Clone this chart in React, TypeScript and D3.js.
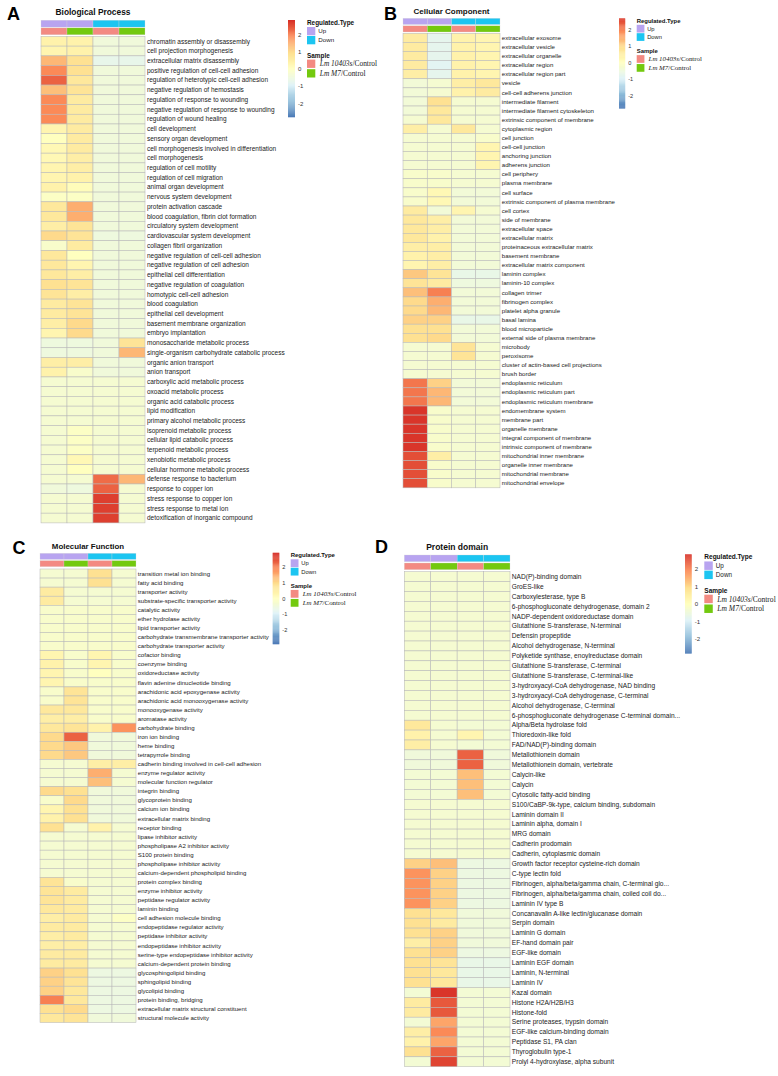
import React from "react";
import * as d3 from "d3";

// ---------- shared categories ----------
const regulatedType = ["Up", "Up", "Down", "Down"];
const sampleType = ["10403s", "M7", "10403s", "M7"];
const legendTicks = [2, 1, 0, -1, -2];
const paletteColors = ["#4575B4", "#91BFDB", "#E0F3F8", "#FFFFBF", "#FEE090", "#FC8D59", "#D73027"];
const paletteMin = -2.8;
const paletteMax = 2.8;

// ---------- A: Biological Process ----------
const bpTerms = [
  "chromatin assembly or disassembly", "cell projection morphogenesis", "extracellular matrix disassembly",
  "positive regulation of cell-cell adhesion", "regulation of heterotypic cell-cell adhesion",
  "negative regulation of hemostasis", "regulation of response to wounding",
  "negative regulation of response to wounding", "regulation of wound healing", "cell development",
  "sensory organ development", "cell morphogenesis involved in differentiation", "cell morphogenesis",
  "regulation of cell motility", "regulation of cell migration", "animal organ development",
  "nervous system development", "protein activation cascade", "blood coagulation, fibrin clot formation",
  "circulatory system development", "cardiovascular system development", "collagen fibril organization",
  "negative regulation of cell-cell adhesion", "negative regulation of cell adhesion",
  "epithelial cell differentiation", "negative regulation of coagulation", "homotypic cell-cell adhesion",
  "blood coagulation", "epithelial cell development", "basement membrane organization", "embryo implantation",
  "monosaccharide metabolic process", "single-organism carbohydrate catabolic process",
  "organic anion transport", "anion transport", "carboxylic acid metabolic process",
  "oxoacid metabolic process", "organic acid catabolic process", "lipid modification",
  "primary alcohol metabolic process", "isoprenoid metabolic process", "cellular lipid catabolic process",
  "terpenoid metabolic process", "xenobiotic metabolic process", "cellular hormone metabolic process",
  "defense response to bacterium", "response to copper ion", "stress response to copper ion",
  "stress response to metal ion", "detoxification of inorganic compound",
];
const bpUp10403s = [0.4, 0.3, 1.4, 1.9, 2.3, 1.3, 1.9, 1.9, 1.9, 0.3, 0.0, 0.2, 0.2, 0.3, 0.3, 0.4, -0.1, 0.7, 0.7, 0.5, 1.0, -0.2, 0.7, 0.7, 0.7, 0.9, 0.8, 0.6, 0.6, 0.5, 0.3, -0.5, -0.5, 0.5, 0.4, -0.3, -0.3, -0.3, -0.3, -0.3, -0.3, -0.3, -0.3, -0.3, -0.3, -0.3, -0.45, -0.3, -0.3, -0.3];
const bpUpM7 = [0.4, 0.4, 0.9, 0.9, 0.7, 0.8, 0.6, 0.6, 0.6, 0.6, 0.6, 0.6, 0.5, 0.5, 0.4, 0.1, -0.1, 1.5, 1.5, 0.8, 0.8, 0.6, 0.0, 0.3, 0.5, 0.8, 0.5, 0.8, 0.8, 1.0, 1.0, -0.5, -0.5, 0.5, -0.2, -0.3, -0.3, -0.3, -0.3, -0.3, -0.1, -0.1, -0.1, 0.2, 0.0, -0.3, -0.5, -0.3, -0.3, -0.3];
const bpDown10403s = [-0.45, -0.45, -0.7, -0.45, -0.45, -0.45, -0.45, -0.45, -0.45, -0.45, -0.45, -0.45, -0.45, -0.45, -0.45, -0.45, -0.45, -0.45, -0.45, -0.45, -0.5, -0.45, -0.45, -0.45, -0.45, -0.45, -0.45, -0.45, -0.45, -0.45, -0.45, -0.45, -0.45, -0.45, -0.45, -0.3, -0.3, -0.3, -0.3, -0.3, -0.3, -0.3, -0.3, -0.3, -0.3, 2.2, 2.3, 2.65, 2.65, 2.65];
const bpDownM7 = [-0.45, -0.45, -0.7, -0.45, -0.45, -0.45, -0.45, -0.45, -0.45, -0.45, -0.45, -0.45, -0.45, -0.45, -0.45, -0.45, -0.45, -0.45, -0.45, -0.45, -0.5, -0.45, -0.45, -0.45, -0.45, -0.45, -0.45, -0.45, -0.45, -0.45, -0.45, 0.8, 1.4, -0.45, -0.45, -0.3, -0.3, -0.3, -0.3, -0.3, -0.3, -0.3, -0.3, -0.3, -0.3, 1.4, -0.3, -0.3, -0.3, -0.3];

// ---------- B: Cellular Component ----------
const ccTerms = [
  "extracellular exosome", "extracellular vesicle", "extracellular organelle", "extracellular region",
  "extracellular region part", "vesicle", "cell-cell adherens junction", "intermediate filament",
  "intermediate filament cytoskeleton", "extrinsic component of membrane", "cytoplasmic region",
  "cell junction", "cell-cell junction", "anchoring junction", "adherens junction", "cell periphery",
  "plasma membrane", "cell surface", "extrinsic component of plasma membrane", "cell cortex",
  "side of membrane", "extracellular space", "extracellular matrix", "proteinaceous extracellular matrix",
  "basement membrane", "extracellular matrix component", "laminin complex", "laminin-10 complex",
  "collagen trimer", "fibrinogen complex", "platelet alpha granule", "basal lamina", "blood microparticle",
  "external side of plasma membrane", "microbody", "peroxisome", "cluster of actin-based cell projections",
  "brush border", "endoplasmic reticulum", "endoplasmic reticulum part", "endoplasmic reticulum membrane",
  "endomembrane system", "membrane part", "organelle membrane", "integral component of membrane",
  "intrinsic component of membrane", "mitochondrial inner membrane", "organelle inner membrane",
  "mitochondrial membrane", "mitochondrial envelope",
];
const ccUp10403s = [0.6, 0.6, 0.6, 0.6, 0.5, -0.4, -0.4, -0.4, -0.4, -0.3, 0.5, -0.3, -0.3, -0.3, -0.3, -0.2, -0.2, -0.2, -0.2, 0.6, 0.7, 0.7, 0.7, 0.5, 0.4, 0.3, 1.2, 0.8, 1.3, 1.0, 1.0, 1.1, 0.9, 0.9, -0.3, -0.3, -0.3, -0.3, 2.1, 2.1, 2.1, 2.75, 2.75, 2.75, 2.75, 2.75, 2.5, 2.5, 2.5, 2.5];
const ccUpM7 = [-0.75, -0.75, -0.75, -0.85, -0.75, -0.3, -0.3, 0.9, 0.7, 0.7, -0.3, -0.3, -0.3, -0.3, -0.3, -0.2, -0.2, 0.2, 0.2, -0.4, 0.5, 0.5, 0.4, 0.5, 0.5, 0.5, 0.8, 0.6, 2.0, 1.5, 1.4, 1.1, 0.9, 1.0, -0.3, -0.3, -0.3, -0.3, 1.1, 1.4, 1.4, -0.2, -0.2, -0.2, -0.2, -0.2, 0.5, -0.2, -0.2, -0.2];
const ccDown10403s = [0.4, 0.4, 0.4, 0.4, 0.4, 0.5, 0.4, -0.3, -0.3, -0.3, 0.7, -0.3, -0.3, -0.3, -0.3, -0.3, -0.3, -0.4, -0.4, 0.3, -0.4, -0.4, -0.4, -0.4, -0.4, -0.4, -0.65, -0.5, -0.4, -0.4, -0.4, -0.65, -0.4, -0.4, 0.8, 0.8, -0.3, -0.3, -0.4, -0.4, -0.4, -0.3, -0.3, -0.3, -0.3, -0.3, -0.3, -0.3, -0.3, -0.3];
const ccDownM7 = [0.3, 0.3, 0.3, 0.3, 0.3, 0.7, 0.6, -0.3, -0.3, -0.3, -0.3, -0.2, 0.3, 0.3, 0.3, -0.3, -0.3, -0.4, -0.4, -0.3, -0.4, -0.4, -0.4, -0.4, -0.4, -0.4, -0.65, -0.5, -0.4, -0.4, -0.4, -0.65, -0.4, -0.4, -0.3, -0.3, -0.3, -0.3, -0.4, -0.4, -0.4, -0.3, -0.3, -0.3, -0.3, -0.3, -0.3, -0.3, -0.3, -0.3];

// ---------- C: Molecular Function ----------
const mfTerms = [
  "transition metal ion binding", "fatty acid binding", "transporter activity",
  "substrate-specific transporter activity", "catalytic activity", "ether hydrolase activity",
  "lipid transporter activity", "carbohydrate transmembrane transporter activity",
  "carbohydrate transporter activity", "cofactor binding", "coenzyme binding", "oxidoreductase activity",
  "flavin adenine dinucleotide binding", "arachidonic acid epoxygenase activity",
  "arachidonic acid monooxygenase activity", "monooxygenase activity", "aromatase activity",
  "carbohydrate binding", "iron ion binding", "heme binding", "tetrapyrrole binding",
  "cadherin binding involved in cell-cell adhesion", "enzyme regulator activity",
  "molecular function regulator", "integrin binding", "glycoprotein binding", "calcium ion binding",
  "extracellular matrix binding", "receptor binding", "lipase inhibitor activity",
  "phospholipase A2 inhibitor activity", "S100 protein binding", "phospholipase inhibitor activity",
  "calcium-dependent phospholipid binding", "protein complex binding", "enzyme inhibitor activity",
  "peptidase regulator activity", "laminin binding", "cell adhesion molecule binding",
  "endopeptidase regulator activity", "peptidase inhibitor activity", "endopeptidase inhibitor activity",
  "serine-type endopeptidase inhibitor activity", "calcium-dependent protein binding",
  "glycosphingolipid binding", "sphingolipid binding", "glycolipid binding", "protein binding, bridging",
  "extracellular matrix structural constituent", "structural molecule activity",
];
const mfUp10403s = [-0.3, -0.3, 0.6, 0.6, -0.2, -0.2, -0.2, -0.2, -0.2, 0.3, 0.4, 0.3, 0.3, -0.2, -0.2, 0.7, 0.5, 0.7, 1.0, 1.0, 1.0, -0.3, -0.3, -0.3, 1.0, -0.2, 0.3, 0.4, 0.9, -0.3, -0.3, -0.3, -0.3, -0.3, 0.8, 0.8, 0.8, 0.7, 0.5, 0.6, 0.5, 0.5, 0.6, 0.6, 1.1, 1.1, 1.1, 2.0, 0.9, 0.7];
const mfUpM7 = [-0.3, -0.3, -0.3, -0.3, -0.2, -0.2, -0.2, -0.2, -0.2, -0.2, -0.2, -0.2, -0.2, 0.8, 0.8, 0.7, 0.5, 0.8, 2.3, 1.2, 1.2, -0.3, -0.3, -0.3, 0.9, 1.0, 0.9, 0.9, -0.3, -0.3, -0.3, -0.3, -0.3, -0.3, -0.2, 0.6, 0.6, 0.6, 0.6, 0.6, 0.6, 0.5, 0.6, 0.6, 0.9, 0.8, 0.7, 0.7, 1.0, 0.8];
const mfDown10403s = [0.9, 0.9, -0.3, -0.3, -0.2, -0.2, -0.2, -0.2, -0.2, 0.3, 0.3, 0.0, -0.2, -0.2, -0.2, -0.2, -0.2, 0.4, -0.45, -0.45, -0.45, 0.5, 1.5, 1.3, -0.45, -0.45, -0.45, -0.45, 0.4, -0.3, -0.3, -0.3, -0.3, -0.3, -0.3, -0.3, -0.3, -0.3, -0.3, -0.3, -0.3, -0.3, -0.3, -0.3, -0.55, -0.55, -0.55, -0.55, -0.55, -0.45];
const mfDownM7 = [-0.3, -0.3, -0.3, -0.3, -0.2, -0.2, -0.2, -0.2, -0.2, -0.2, -0.2, -0.2, -0.2, -0.2, -0.2, -0.2, -0.2, 1.8, -0.45, -0.45, -0.45, 0.5, -0.3, -0.3, -0.45, -0.45, -0.45, -0.45, -0.3, -0.3, -0.3, -0.3, -0.3, -0.3, -0.3, -0.3, -0.3, -0.3, -0.1, -0.3, -0.3, -0.3, -0.3, -0.3, -0.55, -0.55, -0.55, -0.55, -0.55, -0.45];

// ---------- D: Protein domain ----------
const pdTerms = [
  "NAD(P)-binding domain", "GroES-like", "Carboxylesterase, type B",
  "6-phosphogluconate dehydrogenase, domain 2", "NADP-dependent oxidoreductase domain",
  "Glutathione S-transferase, N-terminal", "Defensin propeptide", "Alcohol dehydrogenase, N-terminal",
  "Polyketide synthase, enoylreductase domain", "Glutathione S-transferase, C-terminal",
  "Glutathione S-transferase, C-terminal-like", "3-hydroxyacyl-CoA dehydrogenase, NAD binding",
  "3-hydroxyacyl-CoA dehydrogenase, C-terminal", "Alcohol dehydrogenase, C-terminal",
  "6-phosphogluconate dehydrogenase C-terminal domain...", "Alpha/Beta hydrolase fold",
  "Thioredoxin-like fold", "FAD/NAD(P)-binding domain", "Metallothionein domain",
  "Metallothionein domain, vertebrate", "Calycin-like", "Calycin", "Cytosolic fatty-acid binding",
  "S100/CaBP-9k-type, calcium binding, subdomain", "Laminin domain II", "Laminin alpha, domain I",
  "MRG domain", "Cadherin prodomain", "Cadherin, cytoplasmic domain",
  "Growth factor receptor cysteine-rich domain", "C-type lectin fold",
  "Fibrinogen, alpha/beta/gamma chain, C-terminal glo...", "Fibrinogen, alpha/beta/gamma chain, coiled coil do...",
  "Laminin IV type B", "Concanavalin A-like lectin/glucanase domain", "Serpin domain", "Laminin G domain",
  "EF-hand domain pair", "EGF-like domain", "Laminin EGF domain", "Laminin, N-terminal", "Laminin IV",
  "Kazal domain", "Histone H2A/H2B/H3", "Histone-fold", "Serine proteases, trypsin domain",
  "EGF-like calcium-binding domain", "Peptidase S1, PA clan", "Thyroglobulin type-1",
  "Prolyl 4-hydroxylase, alpha subunit",
];
const pdUp10403s = [-0.3, -0.3, -0.3, -0.3, -0.3, -0.3, -0.3, -0.3, -0.3, -0.3, -0.3, -0.3, -0.3, -0.3, -0.3, 0.7, 0.4, 0.5, -0.45, -0.45, -0.35, -0.35, -0.35, -0.3, -0.3, -0.3, -0.3, -0.3, -0.3, 1.1, 1.8, 1.8, 1.8, 1.8, 0.9, 0.9, 0.9, 0.5, 0.9, 0.9, 0.9, 0.9, -0.35, 0.6, 0.6, -0.35, 0.5, 0.4, 0.9, -0.35];
const pdUpM7 = [-0.3, -0.3, -0.3, -0.3, -0.3, -0.3, -0.3, -0.3, -0.3, -0.3, -0.3, -0.3, -0.3, -0.3, -0.3, -0.3, -0.3, -0.3, -0.45, -0.45, -0.35, -0.35, -0.35, -0.3, -0.3, -0.3, -0.3, -0.3, -0.3, 1.3, 1.1, 1.1, 1.1, 1.1, 0.7, 0.6, 1.1, 1.1, 1.1, 0.8, 0.7, 0.7, 2.75, 2.4, 2.4, 1.6, 1.9, 1.6, 2.3, 2.6];
const pdDown10403s = [-0.3, -0.3, -0.3, -0.3, -0.3, -0.3, -0.3, -0.3, -0.3, -0.3, -0.3, -0.3, -0.3, -0.3, -0.3, -0.35, 0.3, -0.35, 2.3, 2.3, 1.3, 1.3, 1.3, -0.3, -0.3, -0.3, -0.3, -0.3, -0.3, -0.55, -0.55, -0.55, -0.55, -0.55, -0.45, -0.45, -0.45, -0.45, -0.55, -0.65, -0.65, -0.65, -0.35, -0.35, -0.35, -0.35, -0.35, -0.35, -0.35, -0.35];
const pdDownM7 = [-0.3, -0.3, -0.3, -0.3, -0.3, -0.3, -0.3, -0.3, -0.3, -0.3, -0.3, -0.3, -0.3, -0.3, -0.3, -0.35, -0.35, -0.35, -0.45, -0.45, -0.35, -0.35, -0.35, -0.3, -0.3, -0.3, -0.3, -0.3, -0.3, -0.55, -0.55, -0.55, -0.55, -0.55, -0.45, -0.45, -0.45, -0.45, -0.55, -0.65, -0.65, -0.65, -0.35, -0.35, -0.35, -0.35, -0.35, -0.35, -0.35, -0.35];

// ---------- styling ----------
const regColor: Record<string, string> = { Up: "#b8a4f0", Down: "#1cc5f1" };
const sampleColor: Record<string, string> = { "10403s": "#f38a82", M7: "#73c90f" };
const SANS = "'Liberation Sans', Arial, Helvetica, sans-serif";
const SERIF = "'Liberation Serif', 'Times New Roman', serif";

const colorScale = d3
  .scaleLinear<string>()
  .domain(paletteColors.map((_, i) => paletteMin + (i * (paletteMax - paletteMin)) / (paletteColors.length - 1)))
  .range(paletteColors)
  .interpolate(d3.interpolateRgb)
  .clamp(true);

type Cfg = {
  letter: string; letterX: number; letterY: number;
  title: string; titleSize: number; titleY: number;
  hx0: number; hx1: number; hy0: number; rowH: number;
  ann1Y: number; ann2Y: number; annH: number;
  labelX: number; labelSize: number;
  cbx: number; cby: number; cbw: number; cbh: number; zeroY: number; unit: number; lx: number; s: number;
};

const cfgA: Cfg = { letter: "A", letterX: 7, letterY: 20.3, title: "Biological Process", titleSize: 8.4, titleY: 14.8,
  hx0: 41, hx1: 145, hy0: 36.4, rowH: 9.73, ann1Y: 20.2, ann2Y: 27.9, annH: 6.9, labelX: 147, labelSize: 6.5,
  cbx: 288, cby: 20, cbw: 7, cbh: 97, zeroY: 69, unit: 17.3, lx: 307, s: 1 };
const cfgB: Cfg = { letter: "B", letterX: 384, letterY: 20.3, title: "Cellular Component", titleSize: 8.0, titleY: 14.3,
  hx0: 403, hx1: 500, hy0: 33.3, rowH: 9.09, ann1Y: 18.3, ann2Y: 25.8, annH: 6.2, labelX: 501.8, labelSize: 6.1,
  cbx: 619, cby: 18.3, cbw: 6.2, cbh: 90, zeroY: 62.7, unit: 16.5, lx: 636.7, s: 0.93 };
const cfgC: Cfg = { letter: "C", letterX: 12.5, letterY: 553.5, title: "Molecular Function", titleSize: 7.9, titleY: 549,
  hx0: 40, hx1: 136, hy0: 569, rowH: 9.07, ann1Y: 553.3, ann2Y: 560.6, annH: 6.1, labelX: 137.8, labelSize: 6.08,
  cbx: 272.7, cby: 552.7, cbw: 6.6, cbh: 91.3, zeroY: 598.7, unit: 15.7, lx: 290.7, s: 0.94 };
const cfgD: Cfg = { letter: "D", letterX: 375, letterY: 553.3, title: "Protein domain", titleSize: 8.5, titleY: 550,
  hx0: 404.3, hx1: 510, hy0: 571.7, rowH: 9.9, ann1Y: 555, ann2Y: 563, annH: 6.7, labelX: 511.8, labelSize: 6.6,
  cbx: 685, cby: 554.3, cbw: 6.7, cbh: 99, zeroY: 604, unit: 17.6, lx: 704.3, s: 1.02 };

function Panel({ cfg, terms, cols, id }: { cfg: Cfg; terms: string[]; cols: number[][]; id: string }) {
  const x = d3.scaleBand<number>().domain(d3.range(cols.length)).range([cfg.hx0, cfg.hx1]);
  const y = d3.scaleBand<number>().domain(d3.range(terms.length)).range([cfg.hy0, cfg.hy0 + terms.length * cfg.rowH]);
  const vTop = (cfg.zeroY - cfg.cby) / cfg.unit;
  const vBot = (cfg.zeroY - cfg.cby - cfg.cbh) / cfg.unit;
  const cbValue = d3.scaleLinear().domain([cfg.cby, cfg.cby + cfg.cbh]).range([vTop, vBot]);
  const tickY = d3.scaleLinear().domain([0, 1]).range([cfg.zeroY, cfg.zeroY - cfg.unit]);
  const nSteps = 100;
  const s = cfg.s;
  const sq = 8.3 * s;
  const border = "#b9b9b9";
  const cellXCenter = (cfg.hx0 + cfg.hx1) / 2;
  const sampleRows = [
    { key: "10403s", label: "Lm 10403s" },
    { key: "M7", label: "Lm M7" },
  ];
  return (
    <g id={id}>
      <text x={cfg.letterX} y={cfg.letterY} fontFamily={SANS} fontWeight="bold" fontSize={18} fill="#000">{cfg.letter}</text>
      <text x={cellXCenter} y={cfg.titleY} textAnchor="middle" fontFamily={SANS} fontWeight="bold" fontSize={cfg.titleSize} fill="#111">{cfg.title}</text>
      {/* annotation rows */}
      {regulatedType.map((r, i) => (
        <rect key={"r" + i} x={x(i)} y={cfg.ann1Y} width={x.bandwidth()} height={cfg.annH} fill={regColor[r]} stroke="#d8d8d8" strokeWidth={0.3} />
      ))}
      {sampleType.map((sm, i) => (
        <rect key={"s" + i} x={x(i)} y={cfg.ann2Y} width={x.bandwidth()} height={cfg.annH} fill={sampleColor[sm]} stroke="#d8d8d8" strokeWidth={0.3} />
      ))}
      {/* cells */}
      {cols.map((col, ci) =>
        col.map((v, ri) => (
          <rect key={ci + "-" + ri} x={x(ci)} y={y(ri)} width={x.bandwidth()} height={y.bandwidth()} fill={colorScale(v)} stroke={border} strokeWidth={0.55} />
        ))
      )}
      {/* row labels */}
      {terms.map((t, ri) => (
        <text key={"t" + ri} x={cfg.labelX} y={(y(ri) as number) + y.bandwidth() / 2} dy="0.35em" fontFamily={SANS} fontSize={cfg.labelSize} fill="#222">{t}</text>
      ))}
      {/* colour bar */}
      {d3.range(nSteps).map((k) => {
        const y0 = cfg.cby + (k * cfg.cbh) / nSteps;
        const y1 = cfg.cby + ((k + 1) * cfg.cbh) / nSteps;
        return <rect key={"cb" + k} x={cfg.cbx} y={y0} width={cfg.cbw} height={y1 - y0 + 0.3} fill={colorScale(cbValue((y0 + y1) / 2))} />;
      })}
      {legendTicks.map((t) => (
        <text key={"tk" + t} x={cfg.cbx + cfg.cbw + 3} y={tickY(t)} dy="0.35em" fontFamily={SANS} fontSize={6 * s} fill="#333">{t}</text>
      ))}
      {/* Regulated.Type legend */}
      <text x={cfg.lx} y={cfg.cby + 4.6 * s} fontFamily={SANS} fontWeight="bold" fontSize={6.4 * s} fill="#111">Regulated.Type</text>
      {["Up", "Down"].map((r, i) => {
        const yy = cfg.cby + (7 + i * 9) * s;
        return (
          <g key={"lg" + r}>
            <rect x={cfg.lx} y={yy} width={sq} height={sq} fill={regColor[r]} />
            <text x={cfg.lx + sq + 3 * s} y={yy + sq / 2} dy="0.35em" fontFamily={SANS} fontSize={6.2 * s} fill="#222">{r}</text>
          </g>
        );
      })}
      <text x={cfg.lx} y={cfg.cby + 37.6 * s} fontFamily={SANS} fontWeight="bold" fontSize={6.4 * s} fill="#111">Sample</text>
      {sampleRows.map((sr, i) => {
        const yy = cfg.cby + (39.6 + i * 9.6) * s;
        return (
          <g key={"ls" + sr.key}>
            <rect x={cfg.lx} y={yy} width={sq} height={sq} fill={sampleColor[sr.key]} />
            <text x={cfg.lx + sq + 4.5 * s} y={yy + sq / 2} dy="0.35em" fontFamily={SERIF} fontSize={7.4 * s} fill="#222">
              <tspan fontStyle="italic">{sr.label}</tspan>
              <tspan>/Control</tspan>
            </text>
          </g>
        );
      })}
    </g>
  );
}

export default function App() {
  return (
    <div style={{ position: "absolute", left: 0, top: 0 }}>
      <svg width={778} height={1076} viewBox="0 0 778 1076" style={{ display: "block", background: "#fff" }}>
        <rect x={0} y={0} width={778} height={1076} fill="#fff" />
        <Panel id="bp" cfg={cfgA} terms={bpTerms} cols={[bpUp10403s, bpUpM7, bpDown10403s, bpDownM7]} />
        <Panel id="cc" cfg={cfgB} terms={ccTerms} cols={[ccUp10403s, ccUpM7, ccDown10403s, ccDownM7]} />
        <Panel id="mf" cfg={cfgC} terms={mfTerms} cols={[mfUp10403s, mfUpM7, mfDown10403s, mfDownM7]} />
        <Panel id="pd" cfg={cfgD} terms={pdTerms} cols={[pdUp10403s, pdUpM7, pdDown10403s, pdDownM7]} />
      </svg>
    </div>
  );
}
